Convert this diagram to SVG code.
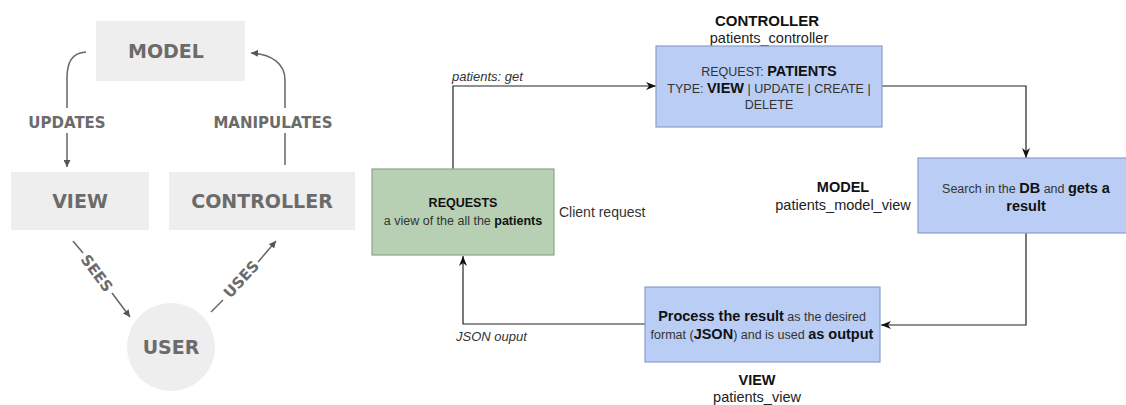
<svg xmlns="http://www.w3.org/2000/svg" width="1126" height="405" viewBox="0 0 1126 405">
  <style>
    .mvc-box { fill: #eeeeee; }
    .mvc-label { font-family: "DejaVu Sans", Verdana, sans-serif; font-weight: bold; fill: #6b6b6b; text-anchor: middle; }
    .mvc-big { font-size: 19px; }
    .mvc-small { font-size: 15px; }
    .mvc-line { fill: none; stroke: #666666; stroke-width: 1.5; }
    .flow { fill: none; stroke: #222222; stroke-width: 1.2; }
    .box-blue { fill: #bacdf4; stroke: #8a9fc8; stroke-width: 1.2; }
    .box-green { fill: #b7d0b3; stroke: #8aa886; stroke-width: 1.2; }
    .t { font-family: "Liberation Sans", Arial, sans-serif; fill: #333333; }
    .c { text-anchor: middle; }
    .n { font-size: 12.5px; }
    .b { font-weight: bold; fill: #111111; }
    .bs { font-weight: bold; font-size: 14.5px; fill: #111111; }
    .cap { font-size: 14.5px; fill: #222222; }
    .it { font-style: italic; font-size: 13px; fill: #333333; }
  </style>
  <defs>
    <marker id="tri" viewBox="0 0 10 10" refX="10" refY="5" markerWidth="7" markerHeight="7" markerUnits="userSpaceOnUse" orient="auto">
      <path d="M0,0 L10,5 L0,10 z" fill="#555555"/>
    </marker>
    <marker id="classic" viewBox="0 0 10 10" refX="10" refY="5" markerWidth="10" markerHeight="10" markerUnits="userSpaceOnUse" orient="auto">
      <path d="M0,1 L10,5 L0,9 L3,5 z" fill="#111111"/>
    </marker>
  </defs>

  <!-- Left: generic MVC cycle -->
  <g id="mvc-connectors">
    <path class="mvc-line" d="M86,52 C72,53 67,62 67,78 L67,108"/>
    <path class="mvc-line" d="M67,133 L67,167" marker-end="url(#tri)"/>
    <path class="mvc-line" d="M285,165 L285,133"/>
    <path class="mvc-line" d="M285,108 L285,80 C285,64 272,54 251,53" marker-end="url(#tri)"/>
    <path class="mvc-line" d="M73,241 L83,253"/>
    <path class="mvc-line" d="M112,293 L130,317" marker-end="url(#tri)"/>
    <path class="mvc-line" d="M211,312 L223,300"/>
    <path class="mvc-line" d="M258,262 L276,241" marker-end="url(#tri)"/>
    <text class="mvc-label mvc-small" x="67" y="128">UPDATES</text>
    <text class="mvc-label mvc-small" x="273" y="128">MANIPULATES</text>
    <text class="mvc-label mvc-small" x="0" y="5.5" transform="translate(97,273) rotate(53)">SEES</text>
    <text class="mvc-label mvc-small" x="0" y="5.5" transform="translate(241,279) rotate(-47.5)">USES</text>
  </g>
  <g id="mvc-model">
    <rect class="mvc-box" x="96" y="21" width="149" height="60"/>
    <text class="mvc-label mvc-big" x="166" y="58">MODEL</text>
  </g>
  <g id="mvc-view">
    <rect class="mvc-box" x="11" y="172" width="138" height="58"/>
    <text class="mvc-label mvc-big" x="80" y="208">VIEW</text>
  </g>
  <g id="mvc-controller">
    <rect class="mvc-box" x="169" y="172" width="186" height="58"/>
    <text class="mvc-label mvc-big" x="262" y="208">CONTROLLER</text>
  </g>
  <g id="mvc-user">
    <circle class="mvc-box" cx="171" cy="347" r="44"/>
    <text class="mvc-label mvc-big" x="171" y="354">USER</text>
  </g>

  <!-- Right: patient request flow -->
  <g id="flow-connectors">
    <path class="flow" d="M453,169 V86 H656" marker-end="url(#classic)"/>
    <path class="flow" d="M882,86 H1026 V158" marker-end="url(#classic)"/>
    <path class="flow" d="M1026,233 V325 H881" marker-end="url(#classic)"/>
    <path class="flow" d="M645,324 H463 V256" marker-end="url(#classic)"/>
    <text class="t it" x="452" y="81">patients: get</text>
    <text class="t it" x="456" y="341">JSON ouput</text>
  </g>

  <g id="client-request">
    <rect class="box-green" x="372" y="169" width="182" height="86"/>
    <text class="t c n b" x="463" y="207">REQUESTS</text>
    <text class="t c n" x="463" y="225">a view of the all the <tspan class="b">patients</tspan></text>
    <text class="t" x="559" y="217" font-size="14" fill="#222222">Client request</text>
  </g>

  <g id="controller">
    <text class="t c b" x="767" y="26" font-size="15">CONTROLLER</text>
    <text class="t c cap" x="769" y="43">patients_controller</text>
    <rect class="box-blue" x="656" y="46" width="226" height="81"/>
    <text class="t c n" x="769" y="76">REQUEST: <tspan class="bs">PATIENTS</tspan></text>
    <text class="t c n" x="769" y="93">TYPE: <tspan class="bs">VIEW</tspan> | UPDATE | CREATE |</text>
    <text class="t c n" x="769" y="109">DELETE</text>
  </g>

  <g id="model">
    <text class="t c b" x="843" y="192" font-size="14.5">MODEL</text>
    <text class="t c cap" x="843" y="210">patients_model_view</text>
    <rect class="box-blue" x="918" y="158" width="214" height="75"/>
    <text class="t c n" x="1026" y="193">Search in the <tspan class="bs">DB</tspan> and <tspan class="bs">gets a</tspan></text>
    <text class="t c bs" x="1026" y="211">result</text>
  </g>

  <g id="view">
    <rect class="box-blue" x="645" y="287" width="235" height="75"/>
    <text class="t c n" x="762" y="321"><tspan class="bs">Process the result</tspan> as the desired</text>
    <text class="t c n" x="762" y="339">format (<tspan class="bs">JSON</tspan>) and is used <tspan class="bs">as output</tspan></text>
    <text class="t c b" x="757" y="385" font-size="14.5">VIEW</text>
    <text class="t c cap" x="757" y="402">patients_view</text>
  </g>
</svg>
